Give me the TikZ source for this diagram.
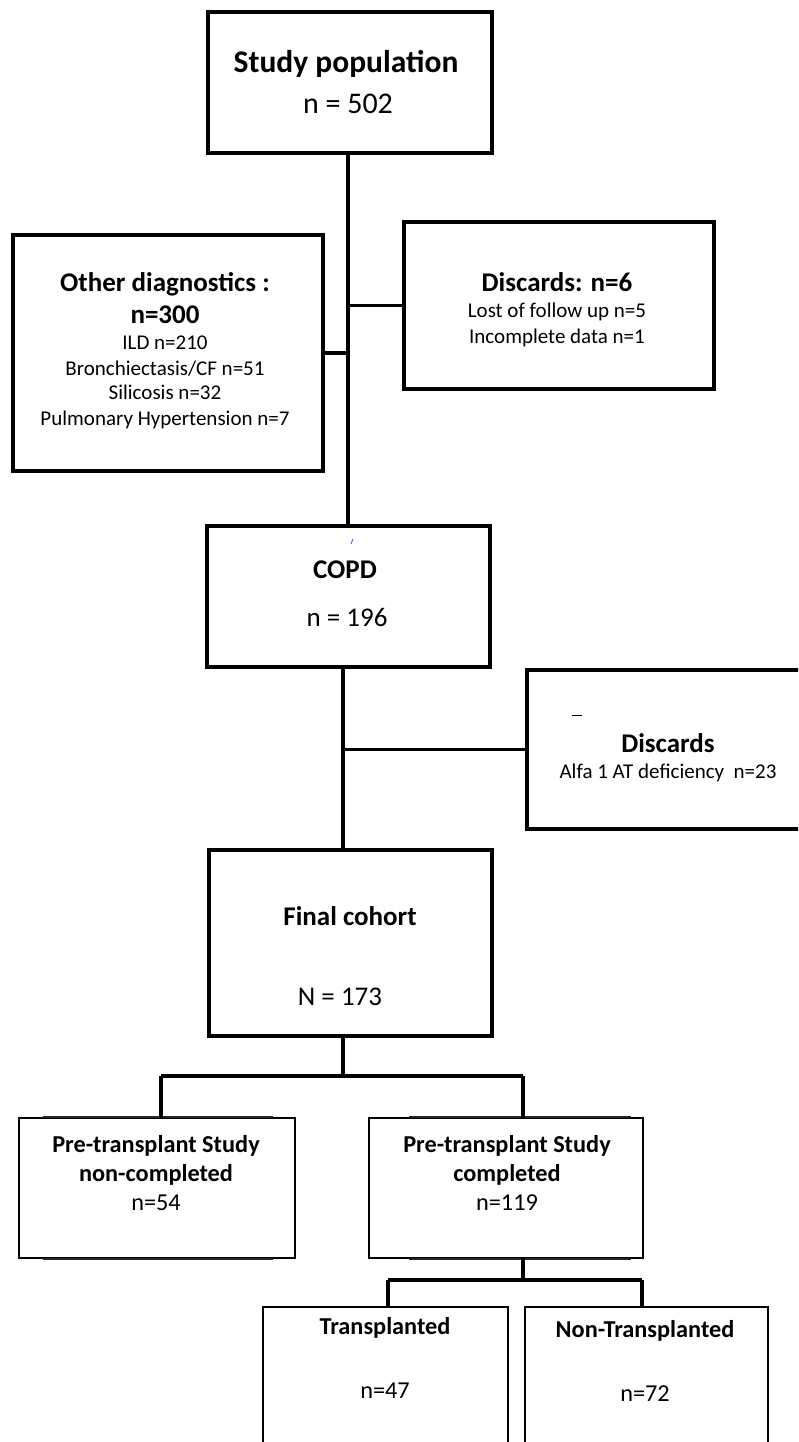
\documentclass[tikz,border=0pt]{standalone}
\usepackage{fontspec}
\setmainfont{Carlito}
\begin{document}
\begin{tikzpicture}[x=1pt,y=-1pt,
  thickbox/.style={draw,line width=3.8pt,inner sep=0pt},
  thinbox/.style={draw,line width=2pt,inner sep=0pt,outer sep=0pt},
  conn/.style={line width=3.6pt},
  edgeline/.style={line width=1.6pt,black!85},
  txt/.style={inner sep=0pt,anchor=base},
  fbig/.style={font=\fontsize{31.5}{36}\selectfont\bfseries},
  fnbig/.style={font=\fontsize{30}{36}\selectfont},
  fhead/.style={font=\fontsize{27}{32}\selectfont\bfseries},
  fmid/.style={font=\fontsize{27}{32}\selectfont\bfseries},
  fnmid/.style={font=\fontsize{27}{32}\selectfont},
  fsmall/.style={font=\fontsize{21}{25}\selectfont},
  fsb/.style={font=\fontsize{24.3}{29}\selectfont\bfseries},
  fsr/.style={font=\fontsize{24.3}{29}\selectfont}]
\useasboundingbox (0,0) rectangle (798,1442);
\clip (0,0) rectangle (798,1442);
\fill[white] (0,0) rectangle (798,1442);

% boxes
\node[thickbox,minimum width=284pt,minimum height=141pt] (study) at (350,82.5) {};
\node[thickbox,minimum width=310pt,minimum height=236pt] (other) at (168,353) {};
\node[thickbox,minimum width=310pt,minimum height=167pt] (disc1) at (559,305.5) {};
\node[thickbox,minimum width=283pt,minimum height=141pt] (copd) at (348.5,596.5) {};
\node[thickbox,minimum width=300pt,minimum height=159pt] (disc2) at (677,749.5) {};
\node[thickbox,minimum width=283pt,minimum height=186pt] (final) at (350.5,943) {};
\node[thinbox,minimum width=276pt,minimum height=140pt] (pre1) at (157,1188) {};
\node[thinbox,minimum width=274pt,minimum height=140pt] (pre2) at (506,1188) {};
\node[thinbox,minimum width=245pt,minimum height=160pt] (trans) at (385.5,1387) {};
\node[thinbox,minimum width=243pt,minimum height=160pt] (nontrans) at (646.5,1387) {};

% slightly offset doubled edges of the lower boxes
\draw[edgeline] ([xshift=24pt,yshift=1.2pt]pre1.north west) -- ([xshift=-22pt,yshift=1.2pt]pre1.north east);
\draw[edgeline] ([xshift=24pt,yshift=-1.2pt]pre1.south west) -- ([xshift=-22pt,yshift=-1.2pt]pre1.south east);
\draw[edgeline] ([xshift=40pt,yshift=1.2pt]pre2.north west) -- ([xshift=-12pt,yshift=1.2pt]pre2.north east);
\draw[edgeline] ([xshift=40pt,yshift=-1.2pt]pre2.south west) -- ([xshift=-12pt,yshift=-1.2pt]pre2.south east);

% texts
\node[txt,fbig] (t1) at (346,73) {Study population};
\node[txt,fnbig] (t2) at (348,114) {n = 502};
\node[txt,fhead] (o1) at (165,291) {Other diagnostics :};
\node[txt,fhead] (o2) at (165,323) {n=300};
\node[txt,fsmall] (o3) at (165,349) {ILD n=210};
\node[txt,fsmall] (o4) at (165,375) {Bronchiectasis/CF n=51};
\node[txt,fsmall] (o5) at (165,399) {Silicosis n=32};
\node[txt,fsmall] (o6) at (165,425) {Pulmonary Hypertension n=7};
\node[txt,fhead] (d1) at (557,291) {Discards: n=6};
\node[txt,fsmall] (d2) at (557,317) {Lost of follow up n=5};
\node[txt,fsmall] (d3) at (557,343) {Incomplete data n=1};
\node[txt,fmid] (c1) at (345,578) {COPD};
\node[txt,fnmid] (c2) at (347,626) {n = 196};
\node[txt,fmid] (e1) at (668,752) {Discards};
\node[txt,fsmall] (e2) at (668,778) {Alfa 1 AT deficiency\ \ n=23};
\node[txt,fmid] (f1) at (350,925) {Final cohort};
\node[txt,fnmid] (f2) at (340,1005) {N = 173};
\node[txt,fsb] (p1) at (156,1152) {Pre-transplant Study};
\node[txt,fsb] (p2) at (156,1181) {non-completed};
\node[txt,fsr] (p3) at (156,1210) {n=54};
\node[txt,fsb] (q1) at (507,1152) {Pre-transplant Study};
\node[txt,fsb] (q2) at (507,1181) {completed};
\node[txt,fsr] (q3) at (507,1210) {n=119};
\node[txt,fsb] (r1) at (385,1334) {Transplanted};
\node[txt,fsr] (r2) at (385,1398) {n=47};
\node[txt,fsb] (s1) at (645,1337) {Non-Transplanted};
\node[txt,fsr] (s2) at (645,1401) {n=72};

% small stray marks
\draw[blue!60!cyan,line width=0.8pt] (351,544) -- (353,539);
\draw[line width=1pt] (572,715) -- (582,715);

% connectors
\coordinate (k0) at (348,153);
\draw[conn] (k0) -- (k0 |- copd.north);
\draw[conn] (k0 |- disc1.west) -- (disc1.west);
\draw[conn] (other.east) -- (k0 |- other.east);
\coordinate (k1) at (343,667);
\draw[conn] (k1) -- (k1 |- final.north);
\draw[conn] (k1 |- disc2.west) -- (disc2.west);
\coordinate (k2) at (343,1076);
\coordinate (k2l) at (161,1076);
\coordinate (k2r) at (523,1076);
\draw[conn] (k2 |- final.south) -- (k2);
\draw[conn] (k2l) -- (k2r);
\draw[conn] (k2l) -- (k2l |- pre1.north);
\draw[conn] (k2r) -- (k2r |- pre2.north);
\coordinate (k3) at (523,1280);
\coordinate (k3l) at (388,1280);
\coordinate (k3r) at (642,1280);
\draw[conn] (k3 |- pre2.south) -- (k3);
\draw[conn] (k3l) -- (k3r);
\draw[conn] (k3l) -- (k3l |- trans.north);
\draw[conn] (k3r) -- (k3r |- nontrans.north);
\end{tikzpicture}
\end{document}
